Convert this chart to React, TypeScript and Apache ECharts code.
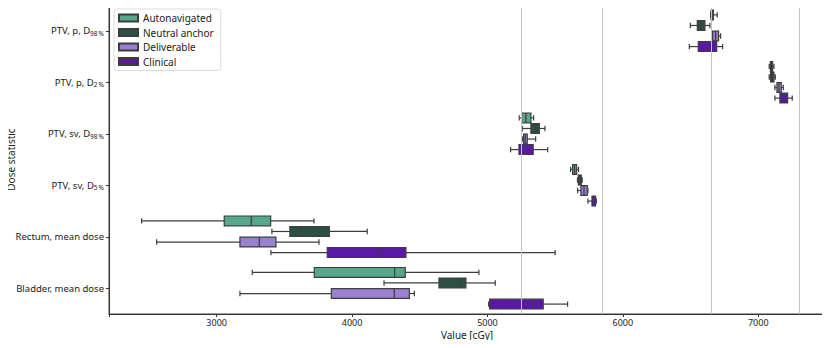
import React, { useEffect, useRef } from "react";
import * as echarts from "echarts";

// Categories (top to bottom)
const catMain = ["PTV, p, D", "PTV, p, D", "PTV, sv, D", "PTV, sv, D", "Rectum, mean dose", "Bladder, mean dose"];
const catSub = ["98\u202f%", "2\u202f%", "98\u202f%", "5\u202f%", "", ""];

const seriesNames = ["Autonavigated", "Neutral anchor", "Deliverable", "Clinical"];
const seriesColors = ["#55a88a", "#2a5143", "#9b7fd1", "#5b17a6"];

// [min, q1, median, q3, max] per category, cGy
const autonavigated = [
  [6648, 6651, 6660, 6669, 6697],
  [7081, 7090, 7098, 7106, 7116],
  [5235, 5252, 5284, 5321, 5341],
  [5614, 5629, 5644, 5659, 5673],
  [2446, 3056, 3256, 3399, 3719],
  [3263, 3721, 4315, 4393, 4937],
];
const neutralAnchor = [
  [6498, 6550, 6575, 6606, 6643],
  [7081, 7091, 7103, 7116, 7126],
  [5257, 5321, 5356, 5383, 5425],
  [5665, 5671, 5682, 5693, 5700],
  [3408, 3541, 3625, 3832, 4112],
  [4236, 4642, 4802, 4841, 5058],
];
const deliverable = [
  [6656, 6663, 6685, 6707, 6722],
  [7123, 7138, 7153, 7170, 7185],
  [5257, 5267, 5279, 5294, 5356],
  [5666, 5690, 5713, 5737, 5742],
  [2557, 3172, 3315, 3438, 3756],
  [3172, 3847, 4312, 4423, 4460],
];
const clinical = [
  [6491, 6557, 6640, 6693, 6737],
  [7123, 7160, 7189, 7217, 7251],
  [5171, 5233, 5279, 5338, 5445],
  [5742, 5772, 5784, 5799, 5804],
  [3401, 3817, 4206, 4398, 5500],
  [5009, 5016, 5334, 5412, 5592],
];
const allSeries = [autonavigated, neutralAnchor, deliverable, clinical];

const refLines = [5250, 5850, 6650, 7300];
const xMin = 2205;
const xMax = 7493;

export default function App() {
  const ref = useRef<HTMLDivElement>(null);
  useEffect(() => {
    const chart = echarts.init(ref.current!, null, { renderer: "svg" });
    const categories = catMain.map((m, i) => (catSub[i] ? m + "_" + catSub[i] : m));
    const lineColor = "#3d3d3d";
    const series: any[] = allSeries.map((rows, s) => ({
      type: "custom",
      name: seriesNames[s],
      itemStyle: { color: seriesColors[s], borderColor: lineColor, borderWidth: 1 },
      encode: { x: [1, 2, 3, 4, 5], y: 0 },
      data: rows.map((r, i) => [i, ...r]),
      renderItem: (params: any, api: any) => {
        const cat = api.value(0);
        const v = [1, 2, 3, 4, 5].map((k) => api.value(k));
        const band = api.size([0, 1])[1];
        const off = (s - 1.5) * band * 0.205;
        const h = band * 0.19;
        const cap = h * 0.55;
        const pts = v.map((val) => api.coord([val, cat]));
        const y = pts[0][1] + off;
        const xs = pts.map((p) => p[0]);
        const ls = { stroke: lineColor, lineWidth: 1.2 };
        return {
          type: "group",
          children: [
            { type: "line", shape: { x1: xs[0], y1: y, x2: xs[1], y2: y }, style: ls },
            { type: "line", shape: { x1: xs[3], y1: y, x2: xs[4], y2: y }, style: ls },
            { type: "line", shape: { x1: xs[0], y1: y - cap / 2, x2: xs[0], y2: y + cap / 2 }, style: ls },
            { type: "line", shape: { x1: xs[4], y1: y - cap / 2, x2: xs[4], y2: y + cap / 2 }, style: ls },
            {
              type: "rect",
              shape: { x: xs[1], y: y - h / 2, width: Math.max(xs[3] - xs[1], 1), height: h },
              style: { fill: seriesColors[s], stroke: lineColor, lineWidth: 1.2 },
            },
            { type: "line", shape: { x1: xs[2], y1: y - h / 2, x2: xs[2], y2: y + h / 2 }, style: ls },
          ],
        };
      },
      z: 3,
    }));
    series.push({
      type: "line",
      data: [],
      silent: true,
      markLine: {
        symbol: "none",
        silent: true,
        label: { show: false },
        lineStyle: { color: "#c4c4c4", width: 1, type: "solid" },
        data: refLines.map((x) => ({ xAxis: x })),
      },
      z: 1,
    });
    chart.setOption({
      animation: false,
      textStyle: { fontFamily: "Noto Sans" },
      grid: {
        left: 109,
        right: 5,
        top: 5,
        bottom: 34,
        show: true,
        borderColor: "#444",
        borderWidth: 1,
        containLabel: false,
        outerBoundsMode: "none",
      },
      legend: {
        data: seriesNames,
        orient: "vertical",
        left: 114,
        top: 9,
        icon: "rect",
        itemWidth: 19,
        itemHeight: 7,
        itemGap: 4.5,
        padding: [4, 7, 4, 4],
        backgroundColor: "#fff",
        borderColor: "#dcdcdc",
        borderWidth: 1,
        borderRadius: 3,
        textStyle: { fontSize: 10, color: "#222", fontFamily: "Noto Sans" },
      },
      xAxis: {
        type: "value",
        min: xMin,
        max: xMax,
        name: "Value [cGy]",
        nameLocation: "middle",
        nameGap: 16,
        nameMoveOverlap: false,
        nameTextStyle: { fontSize: 10, color: "#222", verticalAlign: "top" },
        axisLine: { show: true, lineStyle: { color: "#333" } },
        axisTick: { show: true, length: 3, lineStyle: { color: "#333" } },
        axisLabel: {
          fontSize: 9,
          color: "#222",
          margin: 4,
          formatter: (v: number) => (v % 1000 === 0 ? String(v) : ""),
        },
        splitLine: { show: false },
      },
      yAxis: {
        type: "category",
        inverse: true,
        data: categories,
        name: "Dose statistic",
        nameLocation: "middle",
        nameGap: 93,
        nameMoveOverlap: false,
        nameRotate: 90,
        nameTextStyle: { fontSize: 10, color: "#222" },
        axisLine: { show: true, lineStyle: { color: "#333" } },
        axisTick: { show: true, alignWithLabel: true, length: 3, lineStyle: { color: "#333" } },
        axisLabel: {
          margin: 5,
          fontSize: 9,
          color: "#222",
          formatter: (v: string) => {
            const [m, sub] = v.split("_");
            return sub ? `{b|${m}}{s|${sub}}` : `{b|${m}}`;
          },
          rich: {
            b: { fontSize: 9.5, color: "#222", fontFamily: "Noto Sans" },
            s: { fontSize: 6.5, color: "#222", fontFamily: "Noto Sans", padding: [5, 0, 0, 0] },
          },
        },
        splitLine: { show: false },
      },
      series,
    });
    return () => chart.dispose();
  }, []);
  return <div ref={ref} style={{ width: 830, height: 348, margin: -8 }} />;
}
